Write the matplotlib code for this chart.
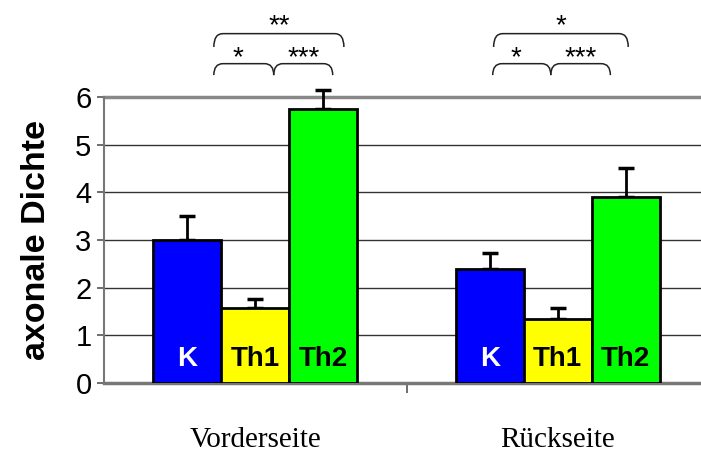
import numpy as np
import matplotlib.pyplot as plt
from matplotlib.path import Path
from matplotlib.patches import PathPatch

# mean axonal density per side and group, with upper error
sides = ['Vorderseite', 'Rückseite']
groups = ['K', 'Th1', 'Th2']
means = {'K': [3.00, 2.39], 'Th1': [1.57, 1.34], 'Th2': [5.74, 3.90]}
errors = {'K': [0.50, 0.34], 'Th1': [0.19, 0.23], 'Th2': [0.40, 0.61]}
colors = {'K': '#0000ff', 'Th1': '#ffff00', 'Th2': '#00ff00'}
label_colors = {'K': 'white', 'Th1': 'black', 'Th2': 'black'}

# significance brackets: (x start, x end, level, stars) in data coords
brackets = [
    (-0.137, 0.293, 'top', '**'),
    (-0.137, 0.061, 'low', '*'),
    (0.061, 0.256, 'low', '***'),
    (0.788, 1.233, 'top', '*'),
    (0.785, 0.977, 'low', '*'),
    (0.977, 1.174, 'low', '***'),
]

x = np.arange(len(sides))
width = 0.225

fig = plt.figure(figsize=(7.01, 4.53), dpi=100)
ax = fig.add_axes([0.1484, 0.1545, 0.863, 0.6313])

for i, g in enumerate(groups):
    pos = x + (i - 1) * width
    ax.bar(pos, means[g], width, color=colors[g], edgecolor='black',
           linewidth=2, zorder=3)
    eb = ax.errorbar(pos, means[g], yerr=[np.zeros(len(sides)), errors[g]],
                     fmt='none', ecolor='black', elinewidth=2, capsize=5.5,
                     capthick=2.5, zorder=2)
    for part in eb.lines:
        for art in (part if isinstance(part, tuple) else [part]):
            if art is not None:
                art.set_clip_on(False)
    for p in pos:
        ax.text(p, 0.5, g, ha='center', va='center', color=label_colors[g],
                fontsize=20, fontweight='bold', family='Liberation Sans',
                zorder=4)

ax.set_xlim(-0.5, 1.5)
ax.set_ylim(0, 6)
ax.set_yticks(range(7))
ax.set_yticklabels([str(v) for v in range(7)], fontsize=21,
                   family='Liberation Sans')
ax.yaxis.grid(True, color='#333333', linewidth=1, zorder=0)
ax.set_axisbelow(True)

ax.set_xticks(x)
ax.set_xticklabels(sides, fontsize=21, family='Liberation Serif')
ax.tick_params(axis='x', which='major', length=0, pad=32)
ax.set_xticks([0.5], minor=True)
ax.tick_params(axis='x', which='minor', length=7, width=1.2, color='#555555')
ax.tick_params(axis='y', length=5, width=1.2, color='#555555', pad=4)

for s in ['top', 'right']:
    ax.spines[s].set_visible(False)
ax.spines['left'].set_color('#777777')
ax.spines['left'].set_linewidth(1.5)
ax.spines['bottom'].set_color('#777777')
ax.spines['bottom'].set_linewidth(2.5)
ax.axhline(6, color='#888888', linewidth=2.5, zorder=1, clip_on=False)

ax.set_ylabel('axonale Dichte', fontsize=24.5, fontweight='bold',
              family='Liberation Sans', labelpad=17)


def draw_bracket(x0, x1, y_top, y_low, r):
    verts = [(x0, y_low), (x0, y_top), (x0 + r, y_top),
             (x1 - r, y_top), (x1, y_top), (x1, y_low)]
    codes = [Path.MOVETO, Path.CURVE3, Path.CURVE3,
             Path.LINETO, Path.CURVE3, Path.CURVE3]
    ax.add_patch(PathPatch(Path(verts, codes), fill=False, edgecolor='#222222',
                           linewidth=1.1, clip_on=False))


for x0, x1, level, stars in brackets:
    if level == 'top':
        yt, yl, ys = 7.33, 7.05, 7.49
    else:
        yt, yl, ys = 6.70, 6.46, 6.82
    draw_bracket(x0, x1, yt, yl, 0.03)
    sx = (x0 + x1) / 2
    if level == 'low' and stars == '*':
        sx -= 0.02
    ax.text(sx, ys, stars, ha='center', va='center', fontsize=20,
            family='Liberation Sans', clip_on=False)

fig.savefig('out.png', dpi=100, facecolor='white')
